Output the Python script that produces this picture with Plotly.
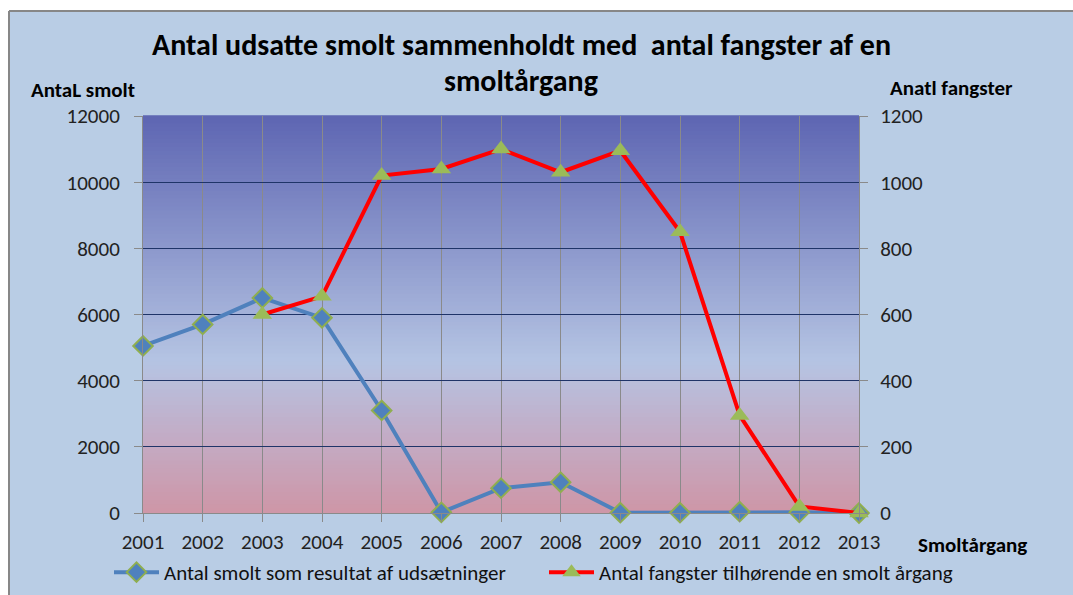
import plotly.graph_objects as go

# ---------------- data ----------------
years = [2001, 2002, 2003, 2004, 2005, 2006, 2007, 2008, 2009, 2010, 2011, 2012, 2013]
smolt = [5050, 5700, 6500, 5900, 3100, 20, 750, 930, 10, 10, 40, 20, 0]
fangster = [None, None, 600, 655, 1020, 1040, 1100, 1030, 1095, 850, 295, 20, 0]
left_ticks = [0, 2000, 4000, 6000, 8000, 10000, 12000]
right_ticks = [0, 200, 400, 600, 800, 1000, 1200]

name_smolt = "Antal smolt som resultat af udsætninger"
name_fang = "Antal fangster tilhørende en smolt årgang"

FONT = "Carlito, Lato, 'Open Sans', sans-serif"
W, H = 1073, 595
L, R, T, B = 143, 214, 116, 82
pw, ph = W - L - R, H - T - B

def px_x(p):
    return (p - L) / pw

def px_y(p):
    return (H - B - p) / ph

fig = go.Figure()

fig.add_trace(go.Scatter(
    x=years, y=smolt, name=name_smolt, mode="lines+markers",
    line=dict(color="#4f81bd", width=4),
    marker=dict(symbol="diamond", size=15, color="#4f81bd",
                line=dict(color="#8fae4f", width=2)),
    yaxis="y", cliponaxis=False, legend="legend",
))
fig.add_trace(go.Scatter(
    x=years, y=fangster, name=name_fang, mode="lines+markers",
    line=dict(color="#ff0000", width=4),
    marker=dict(symbol="triangle-up", size=17, color="#9bbb59",
                line=dict(color="#9bbb59", width=0)),
    yaxis="y2", cliponaxis=False, legend="legend2",
))

shapes = []
# chart area background (no outline) + top/left border lines
shapes.append(dict(type="rect", xref="paper", yref="paper",
                   x0=px_x(9), x1=px_x(1300), y0=px_y(800), y1=px_y(11),
                   fillcolor="#b9cde5", line=dict(width=0), layer="below"))
shapes.append(dict(type="line", xref="paper", yref="paper",
                   x0=px_x(9), x1=px_x(1300), y0=px_y(11), y1=px_y(11),
                   line=dict(color="#878787", width=2), layer="below"))
shapes.append(dict(type="line", xref="paper", yref="paper",
                   x0=px_x(9), x1=px_x(9), y0=px_y(11), y1=px_y(800),
                   line=dict(color="#878787", width=2), layer="below"))
# plot-area gradient
stops = [(0.0, (93, 101, 178)), (0.62, (181, 196, 227)), (0.80, (194, 173, 199)), (1.0, (206, 150, 167))]

def col(t):
    for (a, ca), (b, cb) in zip(stops[:-1], stops[1:]):
        if a <= t <= b:
            f = (t - a) / (b - a)
            return "rgb(%d,%d,%d)" % tuple(round(ca[i] + (cb[i] - ca[i]) * f) for i in range(3))
    return "rgb(%d,%d,%d)" % stops[-1][1]

N = 100
for i in range(N):
    t0 = i / N
    shapes.append(dict(type="rect", xref="x domain", yref="y domain",
                       x0=0, x1=1, y0=1 - (i + 1) / N, y1=1 - t0 + 0.002,
                       fillcolor=col((i + 0.5) / N), line=dict(width=0),
                       layer="below"))

annotations = [
    dict(text="<b>Antal udsatte smolt sammenholdt med  antal fangster af en</b>",
         x=px_x(521), y=px_y(45), xref="paper", yref="paper", showarrow=False,
         font=dict(family=FONT, size=30, color="#000000"), xanchor="center", yanchor="middle"),
    dict(text="<b>smoltårgang</b>",
         x=px_x(521), y=px_y(80), xref="paper", yref="paper", showarrow=False,
         font=dict(family=FONT, size=30, color="#000000"), xanchor="center", yanchor="middle"),
    dict(text="<b>AntaL smolt</b>", x=px_x(29), y=px_y(90), xref="paper", yref="paper",
         showarrow=False, font=dict(family=FONT, size=21, color="#000000"),
         xanchor="left", yanchor="middle"),
    dict(text="<b>Anatl fangster</b>", x=px_x(888), y=px_y(88), xref="paper", yref="paper",
         showarrow=False, font=dict(family=FONT, size=21, color="#000000"),
         xanchor="left", yanchor="middle"),
    dict(text="<b>Smoltårgang</b>", x=px_x(916), y=px_y(545), xref="paper", yref="paper",
         showarrow=False, font=dict(family=FONT, size=21, color="#000000"),
         xanchor="left", yanchor="middle"),
]

tickfont = dict(family=FONT, size=21, color="#222222")
legfont = dict(family=FONT, size=21, color="#111111")

fig.update_layout(
    width=W, height=H, autosize=False,
    margin=dict(l=L, r=R, t=T, b=B, pad=0, autoexpand=False),
    paper_bgcolor="#ffffff", plot_bgcolor="rgba(0,0,0,0)",
    shapes=shapes, annotations=annotations,
    xaxis=dict(range=[2001, 2013], tickmode="array", tickvals=years,
               ticktext=[str(y) for y in years], showgrid=True,
               gridcolor="#8a8a8a", gridwidth=1, zeroline=False,
               showline=True, linecolor="#8a8a8a", linewidth=1,
               ticks="outside", ticklen=8, tickcolor="#8a8a8a",
               tickfont=tickfont, ticklabelstandoff=2, fixedrange=True,
               automargin=False),
    yaxis=dict(range=[0, 12000], tickmode="array", tickvals=left_ticks,
               ticktext=[str(v) for v in left_ticks],
               showgrid=True, gridcolor="#1f3468", gridwidth=1, zeroline=False,
               showline=True, linecolor="#8a8a8a", linewidth=1,
               ticks="outside", ticklen=8, tickcolor="#8a8a8a",
               tickfont=tickfont, ticklabelstandoff=10, automargin=False),
    yaxis2=dict(range=[0, 1200], tickmode="array", tickvals=right_ticks,
                ticktext=[str(v) for v in right_ticks],
                overlaying="y", side="right", showgrid=False, zeroline=False,
                showline=True, linecolor="#8a8a8a", linewidth=1,
                ticks="outside", ticklen=8, tickcolor="#8a8a8a",
                tickfont=tickfont, ticklabelstandoff=8, automargin=False),
    legend=dict(orientation="h", x=px_x(109), y=px_y(552), xanchor="left", yanchor="top",
                bgcolor="rgba(0,0,0,0)", font=legfont, itemwidth=45),
    legend2=dict(orientation="h", x=px_x(544), y=px_y(552), xanchor="left", yanchor="top",
                 bgcolor="rgba(0,0,0,0)", font=legfont, itemwidth=45),
    showlegend=True,
)

fig.write_html("out.html", config={"displayModeBar": False},
               post_script="document.body.style.margin='0px';document.body.style.overflow='hidden';")
